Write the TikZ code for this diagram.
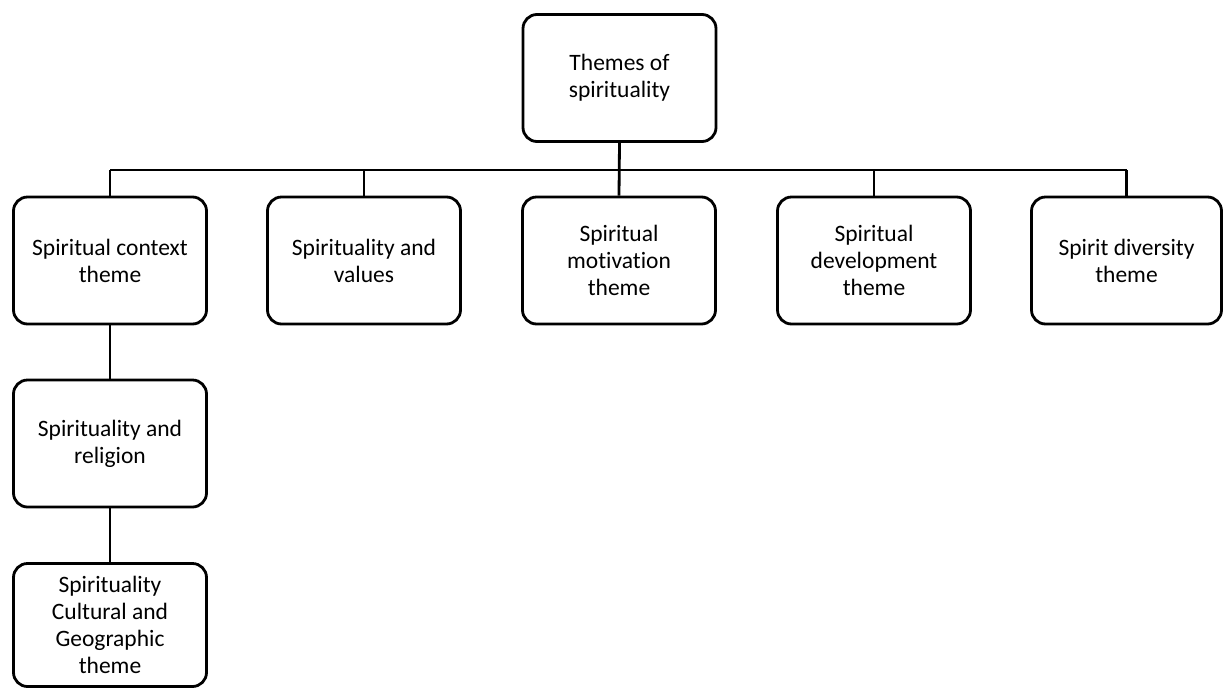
\documentclass[tikz,border=0pt]{standalone}
\usepackage{fontspec}
\setmainfont[Ligatures={NoCommon}]{Carlito}
\begin{document}
\begin{tikzpicture}[x=1pt,y=1pt,
  box/.style={draw=black, line width=2.8pt, rounded corners=14pt, fill=white,
    minimum width=193pt, minimum height=127pt, align=center, inner sep=2pt,
    font=\fontsize{23.5}{27}\selectfont},
  conn/.style={draw=black, line width=2.8pt}]
\useasboundingbox (0,0) rectangle (1224,-689);
\node[box] (top) at (619.5,-78) {Themes of\\spirituality};
\node[box] (b1) at (110,-260.5) {Spiritual context\\theme};
\node[box] (b2) at (364,-260.5) {Spirituality and\\values};
\node[box] (b3) at (619,-260.5) {Spiritual\\motivation\\theme};
\node[box] (b4) at (874,-260.5) {Spiritual\\development\\theme};
\node[box, minimum width=190pt] (b5) at (1126.5,-260.5) {Spirit diversity\\theme};
\node[box] (b6) at (110,-443.5) {Spirituality and\\religion};
\node[box, minimum height=123pt] (b7) at (110,-625) {Spirituality\\Cultural and\\Geographic\\theme};
\coordinate (bus) at (0,-170);
\draw[conn] (b1.north |- bus) -- (b5.north |- bus);
\draw[conn] (top.south) -- (b3.north);
\draw[conn] (b1.north) -- (b1.north |- bus);
\draw[conn] (b2.north) -- (b2.north |- bus);
\draw[conn] (b4.north) -- (b4.north |- bus);
\draw[conn] (b5.north) -- (b5.north |- bus);
\draw[conn] (b1.south) -- (b6.north);
\draw[conn] (b6.south) -- (b7.north);
\end{tikzpicture}
\end{document}
